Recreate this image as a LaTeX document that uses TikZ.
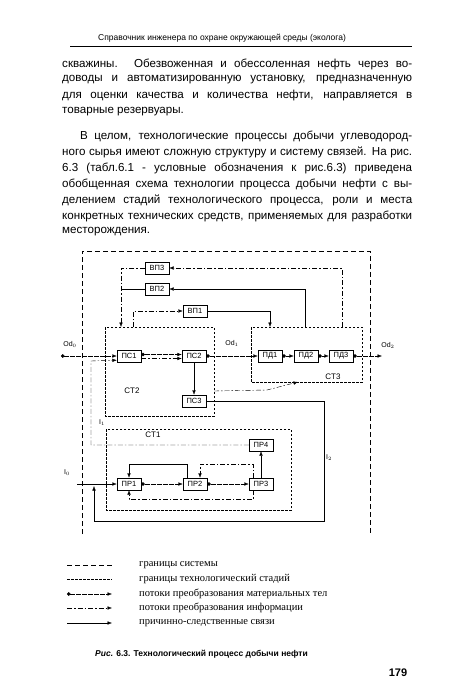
\documentclass[tikz,border=0pt]{standalone}
\usepackage{fontspec}
\setmainfont{Liberation Sans}
\newfontfamily\serifru{Liberation Serif}
\usetikzlibrary{arrows.meta}

\tikzset{
  blok/.style={draw, minimum width=24pt, minimum height=12pt, inner sep=1pt,
    font=\fontsize{7.5}{8}\selectfont},
  sysgr/.style={dash pattern=on 5pt off 3pt},
  stgr/.style={dash pattern=on 2.5pt off 1.5pt},
  mat/.style={{Circle[length=3.5pt]}-{Latex[length=4.5pt,width=3.5pt]}, dash pattern=on 5pt off 1pt},
  info/.style={-{Latex[length=4.5pt,width=3.5pt]}, dash pattern=on 5pt off 2pt on 1.5pt off 2pt},
  prich/.style={-{Latex[length=4.5pt,width=3.5pt]}},
  metka/.style={font=\fontsize{7}{8}\selectfont, inner sep=0pt},
  stroka/.style={anchor=west, inner sep=0pt, font=\fontsize{11.6}{13}\selectfont},
  leg/.style={anchor=west, inner sep=0pt, font=\serifru\fontsize{10.5}{12}\selectfont}
}

\begin{document}
\begin{tikzpicture}[x=1pt,y=-1pt]
\useasboundingbox (0,0) rectangle (450,700);

% header
\node[inner sep=0pt, font=\fontsize{8.5}{10}\selectfont] (hdr) at (222,38) {Справочник инженера по охране окружающей среды (эколога)};
\draw[line width=0.6pt] (70,46) -- (412,46);

% text
\node[stroka] (t1) at (62,64) {\makebox[350pt][s]{скважины. Обезвоженная и обессоленная нефть через во-}};
\node[stroka] (t2) at (62,80) {\makebox[350pt][s]{доводы и автоматизированную установку, предназначенную}};
\node[stroka] (t3) at (62,96) {\makebox[350pt][s]{для оценки качества и количества нефти, направляется в}};
\node[stroka] (t4) at (62,112) {товарные резервуары.};
\node[stroka] (t5) at (80,136) {\makebox[332pt][s]{В целом, технологические процессы добычи углеводород-}};
\node[stroka] (t6) at (62,152) {\makebox[350pt][s]{ного сырья имеют сложную структуру и систему связей. На рис.}};
\node[stroka] (t7) at (62,168) {\makebox[350pt][s]{6.3 (табл.6.1 - условные обозначения к рис.6.3) приведена}};
\node[stroka] (t8) at (62,184) {\makebox[350pt][s]{обобщенная схема технологии процесса добычи нефти с вы-}};
\node[stroka] (t9) at (62,200) {\makebox[350pt][s]{делением стадий технологического процесса, роли и места}};
\node[stroka] (t10) at (62,216) {\makebox[350pt][s]{конкретных технических средств, применяемых для разработки}};
\node[stroka] (t11) at (62,232) {месторождения.};

% boundaries
\draw[sysgr] (82,534) -- (82,251) -- (370,251) -- (370,534);
\draw[stgr] (105,327) rectangle (214,416);
\draw[stgr] (251,327) rectangle (362,382);
\draw[stgr] (106,429) rectangle (291,510);
\node[metka, font=\fontsize{8}{9}\selectfont] (ct2) at (132,391) {CT2};
\node[metka, font=\fontsize{8}{9}\selectfont] (ct3) at (333,377) {CT3};
\node[metka, font=\fontsize{8}{9}\selectfont] (ct1) at (153,435) {CT1};

% blocks
\node[blok] (vp3) at (157,268) {ВП3};
\node[blok] (vp2) at (157,289) {ВП2};
\node[blok] (vp1) at (195,311) {ВП1};
\node[blok] (ps1) at (129,356) {ПС1};
\node[blok] (ps2) at (194,356) {ПС2};
\node[blok] (ps3) at (194,401) {ПС3};
\node[blok] (pd1) at (270,356) {ПД1};
\node[blok] (pd2) at (306,356) {ПД2};
\node[blok] (pd3) at (341,356) {ПД3};
\node[blok] (pr4) at (261,445) {ПР4};
\node[blok] (pr1) at (129,484) {ПР1};
\node[blok] (pr2) at (195,484) {ПР2};
\node[blok] (pr3) at (261,484) {ПР3};

\coordinate (od0) at (61,356);
\coordinate (od2) at (382,356);
\coordinate (i0) at (77,484);

% upper loops
\draw[info] (342,327) |- (vp3);
\draw[info] (vp3) -| (121,327);
\draw[prich] (305,327) |- (vp2);
\draw (vp2) -- (121,289);
\draw[info] (133,327) |- (vp1);
\draw[prich] (vp1) -| (270,327);

% main line
\draw[mat] (od0) -- (ps1);
\node[metka] (lod0) at (70,344) {Od$_0$};
\draw[mat] ([yshift=1.5pt]ps1.east) -- ([yshift=1.5pt]ps2.west);
\draw[info] ([yshift=-2.5pt]ps1.east) -- ([yshift=-2.5pt]ps2.west);
\draw[mat] (ps2) -- (pd1);
\node[metka] (lod1) at (232,343) {Od$_1$};
\draw[mat] (pd1) -- (pd2);
\draw[mat] (pd2) -- (pd3);
\draw[mat] (pd3) -- (od2);
\node[metka] (lod2) at (388,345) {Od$_2$};
\draw[prich] (ps2) -- (ps3);
\draw[info] (214,391) -- (267,390) -- (298,382);

% feedback I2
\draw[prich] (ps3) -| (324,521) -| (94,486);
\node[metka] (li2) at (329,458) {I$_2$};

% feedback I1
\draw[info] (pr4) -| (91,361) -- ([yshift=2pt]ps1.south west);
\node[metka] (li1) at (102,423) {I$_1$};

% stage CT1
\draw[prich] (i0) -- (pr1);
\node[metka] (li0) at (67,473) {I$_0$};
\draw[mat] (pr1) -- (pr2);
\draw[mat] (pr2) -- (pr3);
\draw[prich] (pr3) -- (pr4);
\draw[prich] (187,478) -- (187,464) -| (pr1.north);
\draw[info] (253,478) -- (253,464) -| ([xshift=5pt]pr2.north);
\draw[info] (253,490) -- (253,499) -| (pr1.south);

% legend
\draw[sysgr] (67,565) -- (112,565);
\node[leg] (l1) at (139,565) {границы системы};
\draw[stgr] (67,579) -- (112,579);
\node[leg] (l2) at (139,579) {границы технологический стадий};
\draw[mat] (67,594) -- (112,594);
\node[leg] (l3) at (139,594) {потоки преобразования материальных тел};
\draw[info] (67,608) -- (112,608);
\node[leg] (l4) at (139,608) {потоки преобразования информации};
\draw[prich] (67,623) -- (112,623);
\node[leg] (l5) at (139,623) {причинно-следственные связи};

% caption
\node[anchor=west, inner sep=0pt, font=\bfseries\fontsize{8.5}{10}\selectfont] (cap) at (95,654) {\textit{Рис.} 6.3. Технологический процесс добычи нефти};
\node[inner sep=0pt, font=\bfseries\fontsize{11}{12}\selectfont] (pg) at (398,673) {179};
\end{tikzpicture}
\end{document}
